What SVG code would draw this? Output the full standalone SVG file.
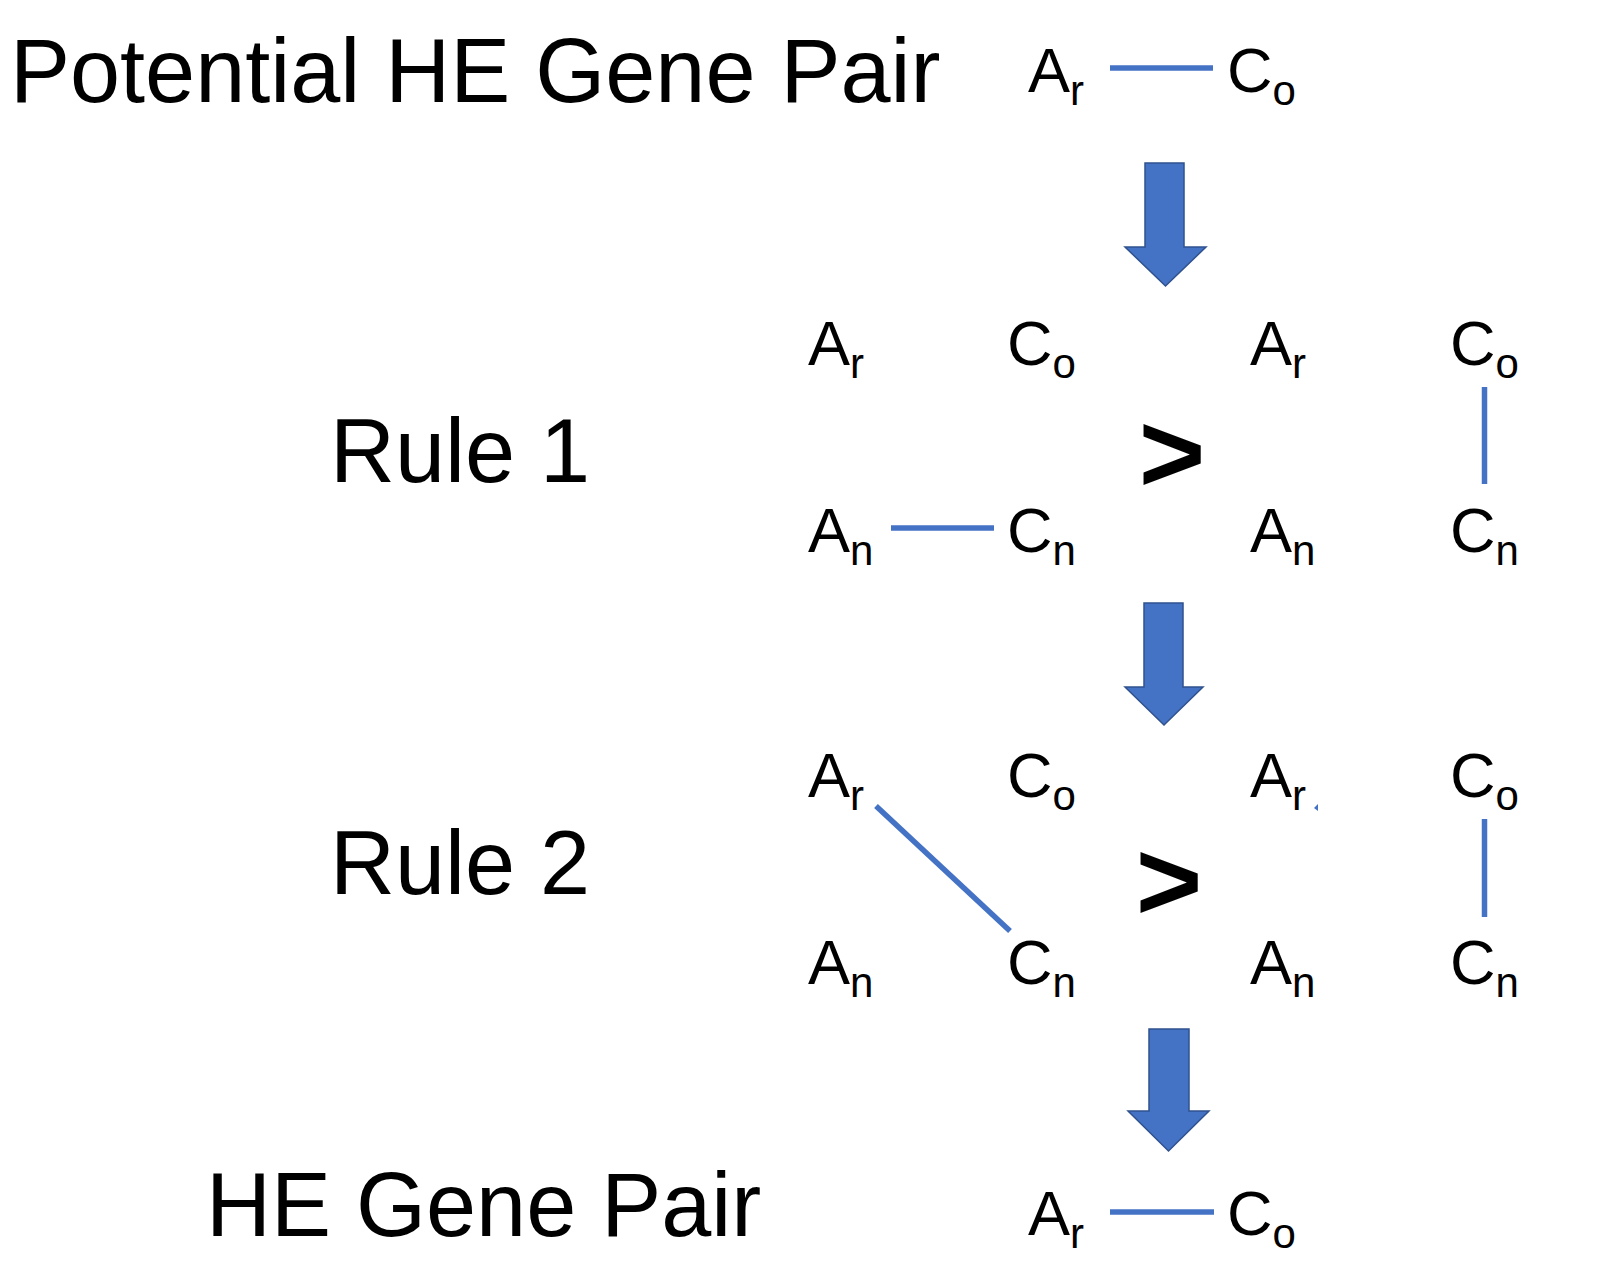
<svg xmlns="http://www.w3.org/2000/svg" width="1604" height="1284" viewBox="0 0 1604 1284">
<style>
.lbl{font-family:"Liberation Sans",Arial,sans-serif;font-size:90px;fill:#000}
.g{font-family:"Liberation Sans",Arial,sans-serif;font-size:63px;fill:#000}
.s{font-size:42px}
.gt{font-family:"Liberation Sans",Arial,sans-serif;font-weight:bold;font-size:114px;fill:#000}
.edge{stroke:#4472C4;stroke-width:5.5;fill:none}
.arr{fill:#4472C4;stroke:#2F528F;stroke-width:1.5}
</style>
<rect width="1604" height="1284" fill="#fff"/>
<g id="labels">
<text class="lbl" x="10" y="102">Potential HE Gene Pair</text>
<text class="lbl" x="330" y="482">Rule 1</text>
<text class="lbl" x="330" y="894">Rule 2</text>
<text class="lbl" x="206" y="1236">HE Gene Pair</text>
</g>
<g id="top-pair">
<text class="g" x="1028" y="92">A<tspan class="s" dy="13">r</tspan></text>
<text class="g" x="1227" y="92">C<tspan class="s" dy="13">o</tspan></text>
</g>
<g id="rule1-left">
<text class="g" x="808" y="365">A<tspan class="s" dy="13">r</tspan></text>
<text class="g" x="1007" y="365">C<tspan class="s" dy="13">o</tspan></text>
<text class="g" x="808" y="552">A<tspan class="s" dy="13">n</tspan></text>
<text class="g" x="1007" y="552">C<tspan class="s" dy="13">n</tspan></text>
</g>
<g id="rule1-gt"><text class="gt" x="1172" y="492" text-anchor="middle">&gt;</text></g>
<g id="rule1-right">
<text class="g" x="1250" y="365">A<tspan class="s" dy="13">r</tspan></text>
<text class="g" x="1450" y="365">C<tspan class="s" dy="13">o</tspan></text>
<text class="g" x="1250" y="552">A<tspan class="s" dy="13">n</tspan></text>
<text class="g" x="1450" y="552">C<tspan class="s" dy="13">n</tspan></text>
</g>
<g id="rule2-left">
<text class="g" x="808" y="797">A<tspan class="s" dy="13">r</tspan></text>
<text class="g" x="1007" y="797">C<tspan class="s" dy="13">o</tspan></text>
<text class="g" x="808" y="984">A<tspan class="s" dy="13">n</tspan></text>
<text class="g" x="1007" y="984">C<tspan class="s" dy="13">n</tspan></text>
</g>
<g id="rule2-gt"><text class="gt" x="1169" y="920" text-anchor="middle">&gt;</text></g>
<g id="rule2-right">
<text class="g" x="1250" y="797">A<tspan class="s" dy="13">r</tspan></text>
<text class="g" x="1450" y="797">C<tspan class="s" dy="13">o</tspan></text>
<text class="g" x="1250" y="984">A<tspan class="s" dy="13">n</tspan></text>
<text class="g" x="1450" y="984">C<tspan class="s" dy="13">n</tspan></text>
</g>
<g id="bottom-pair">
<text class="g" x="1028" y="1235">A<tspan class="s" dy="13">r</tspan></text>
<text class="g" x="1227" y="1235">C<tspan class="s" dy="13">o</tspan></text>
</g>
<g id="connectors">
<line class="edge" x1="1110" y1="68" x2="1213" y2="68"/>
<line class="edge" x1="891" y1="528" x2="994" y2="528"/>
<line class="edge" x1="1484.5" y1="387" x2="1484.5" y2="484"/>
<line class="edge" x1="876" y1="806" x2="1010" y2="931"/>
<line class="edge" x1="1484.5" y1="819" x2="1484.5" y2="917"/>
<polygon points="1314,808 1318,804 1318,811" fill="#4472C4"/>
<line class="edge" x1="1110" y1="1212" x2="1214" y2="1212"/>
<path class="arr" d="M1145,163 H1184 V247 H1206 L1165.5,286 L1125,247 H1145 Z"/>
<path class="arr" d="M1144,603 H1183 V687 H1203 L1164,725 L1125,687 H1144 Z"/>
<path class="arr" d="M1149,1029 H1189 V1111 H1209 L1168.5,1151 L1128,1111 H1149 Z"/>
</g>
</svg>
